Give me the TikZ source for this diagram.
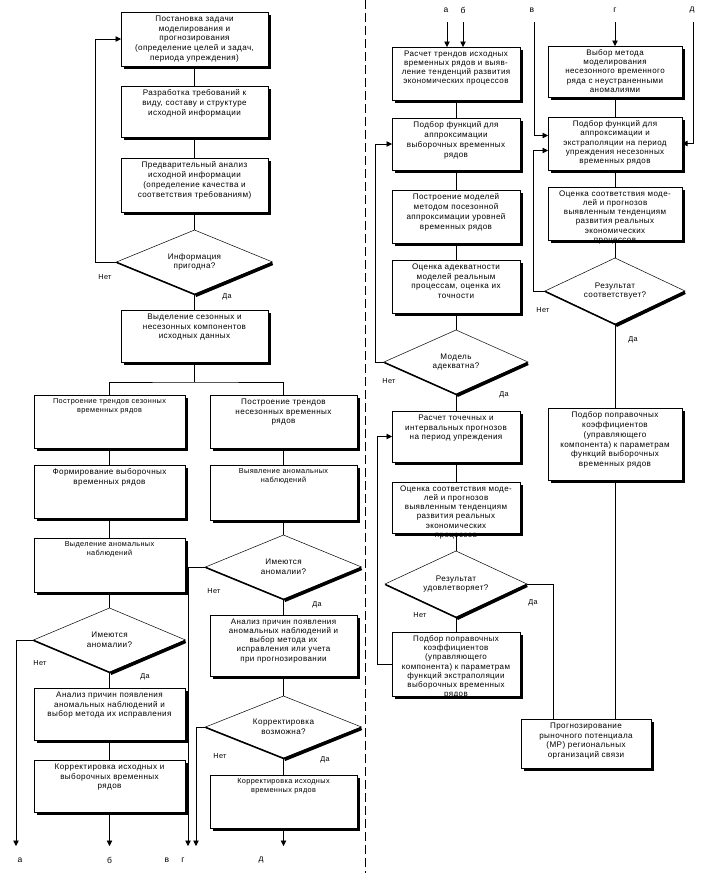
\documentclass[tikz,border=0pt]{standalone}
\usepackage{fontspec}
\setmainfont{Liberation Sans}
\newfontfamily\spfont[LetterSpace=5]{Liberation Sans}
\usetikzlibrary{arrows.meta,shadows,shapes.geometric}
\tikzset{
  boxst/.style={draw, fill=white, line width=0.8pt, inner sep=0, outer sep=0,
    drop shadow={shadow xshift=3pt, shadow yshift=-3pt, opacity=1, fill=black}},
  diast/.style={diamond, draw, line width=0.5pt, inner sep=0, outer sep=0, aspect=2.4},
  txt/.style={align=center, inner sep=0, font=\spfont\fontsize{8.1}{9.8}\selectfont},
  txr/.style={align=center, inner sep=0, font=\spfont\fontsize{8}{9.2}\selectfont},
  txs/.style={align=center, inner sep=0, font=\spfont\fontsize{7.3}{9.2}\selectfont},
  yn/.style={inner sep=0, font=\spfont\fontsize{7.3}{8}\selectfont},
  lbl/.style={inner sep=0, font=\fontsize{8.5}{9}\selectfont},
  ln/.style={line width=0.7pt},
  arr/.style={-{Triangle[length=5.5pt,width=5.5pt]}}
}
\newcommand\mkbox[7][txt]{%
  \node[boxst, minimum width={(#5)-(#3)}, minimum height={(#6)-(#4)}] (#2) at ({((#3)+(#5))/2},{((#4)+(#6))/2}) {};
  \node[#1, anchor=north] (#2-t) at ([yshift=-3.5pt]#2.north) {#7};}
\newcommand\mkdia[6]{%
  \node[diast, minimum width={2*(#4)}, minimum height={2*(#5)}] (#1) at (#2,#3) {};
  \draw[line width=1.5pt] ([shift={(0.4pt,-0.6pt)}]#1.west) -- ([shift={(0.4pt,-0.6pt)}]#1.south);
  \draw[line width=3.5pt] ([shift={(1pt,-1.4pt)}]#1.south) -- ([shift={(0pt,-1.4pt)}]#1.east);
  \node[txt] (#1-t) at (#1.center) {#6};}
\begin{document}
\begin{tikzpicture}[x=1pt,y=-1pt]
\useasboundingbox (0,0) rectangle (709,873);
% separator
\coordinate (sepT) at (365,0); \coordinate (sepB) at (365,873);
\draw[line width=0.7pt, dash pattern=on 9pt off 4pt] (sepT) -- (sepB);

% ---------- left top column ----------
\mkbox{a1}{121}{12}{268}{66}{Постановка задачи\\моделирования и\\прогнозирования\\(определение целей и задач,\\периода упреждения)}
\mkbox{a2}{121}{86}{268}{137}{Разработка требований к\\виду, составу и структуре\\исходной информации}
\mkbox{a3}{121}{158}{268}{212}{Предварительный анализ\\исходной информации\\(определение качества и\\соответствия требованиям)}
\mkdia{d1}{194.5}{262}{78}{32}{Информация\\пригодна?}
\mkbox{a4}{121}{310}{268}{362}{Выделение сезонных и\\несезонных компонентов\\исходных данных}
\draw[ln] (a1) -- (a2); \draw[ln] (a2) -- (a3); \draw[ln] (a3.south) -- (d1.north);
\draw[ln] (d1.south) -- (a4.north);
\draw[ln,arr] (d1.west) -- ++(-21,0) |- (a1.west);
\node[yn] (d1n) at (105,277) {Нет};
\node[yn] (d1y) at (227,297) {Да};

% ---------- left column B ----------
\mkbox[txs]{b1}{34}{395}{185}{448}{Построение трендов сезонных\\временных рядов}
\mkbox{b2}{34}{465}{185}{518}{Формирование выборочных\\временных рядов}
\mkbox[txs]{b3}{34}{538}{185}{592}{Выделение аномальных\\наблюдений}
\mkdia{d2}{109.5}{640}{76}{32}{Имеются\\аномалии?}
\mkbox{b4}{34}{688}{185}{740}{Анализ причин появления\\аномальных наблюдений и\\выбор метода их исправления}
\mkbox{b5}{34}{760}{185}{812}{Корректировка исходных и\\выборочных временных\\рядов}
\draw[ln] (b1) -- (b2); \draw[ln] (b2) -- (b3); \draw[ln] (b3.south) -- (d2.north);
\draw[ln] (d2.south) -- (b4.north); \draw[ln] (b4) -- (b5);
\node[yn] (d2n) at (40,663) {Нет};
\node[yn] (d2y) at (145,677) {Да};

% ---------- middle column C ----------
\mkbox{c1}{210}{395}{357}{448}{Построение трендов\\несезонных временных\\рядов}
\mkbox[txs]{c2}{210}{465}{357}{520}{Выявление аномальных\\наблюдений}
\mkdia{d3}{283.5}{567}{78}{32}{Имеются\\аномалии?}
\mkbox[txr]{c3}{210}{615}{357}{676}{Анализ причин появления\\аномальных наблюдений и\\выбор метода их\\исправления или учета\\при прогнозировании}
\mkdia{d4}{283.5}{727}{78}{31}{Корректировка\\возможна?}
\mkbox[txs]{c4}{210}{775}{357}{828}{Корректировка исходных\\временных рядов}
\draw[ln] (c1) -- (c2); \draw[ln] (c2.south) -- (d3.north);
\draw[ln] (d3.south) -- (c3.north); \draw[ln] (c3.south) -- (d4.north);
\draw[ln] (d4.south) -- (c4.north);
\node[yn] (d3n) at (214,591) {Нет};
\node[yn] (d3y) at (317,605) {Да};
\node[yn] (d4n) at (220,756) {Нет};
\node[yn] (d4y) at (325,760) {Да};

% split
\draw[ln] (a4.south) -- ++(0,20) coordinate (sp);
\draw[ln] (b1.north) |- (sp) -| (c1.north);

% bottom outgoing arrows
\coordinate (ea) at (16,846); \coordinate (eb) at (109.5,846);
\coordinate (ev) at (188,846); \coordinate (eg) at (196,846);
\coordinate (ed) at (283.5,846);
\draw[ln,arr] (d2.west) -| (ea);
\draw[ln,arr] (b5.south) -- (eb);
\draw[ln,arr] (d3.west) -| (ev);
\draw[ln,arr] (d4.west) -| (eg);
\draw[ln,arr] (c4.south) -- (ed);
\node[lbl] (la) at (20,860) {а};
\node[lbl] (lb) at (109.5,860) {б};
\node[lbl] (lv) at (167,860) {в};
\node[lbl] (lg) at (183,860) {г};
\node[lbl] (ld) at (261,860) {д};

% ---------- right column R ----------
\mkbox[txr]{r1}{392}{47}{520}{100}{Расчет трендов исходных\\временных рядов и выяв-\\ление тенденций развития\\экономических процессов}
\mkbox{r2}{392}{118}{520}{170}{Подбор функций для\\аппроксимации\\выборочных временных\\рядов}
\mkbox{r3}{392}{190}{520}{243}{Построение моделей\\методом посезонной\\аппроксимации уровней\\временных рядов}
\mkbox{r4}{392}{260}{520}{313}{Оценка адекватности\\моделей реальным\\процессам, оценка их\\точности}
\mkdia{d5}{456}{362}{72}{32}{Модель\\адекватна?}
\mkbox{r5}{392}{411}{520}{462}{Расчет точечных и\\интервальных прогнозов\\на период упреждения}
\mkbox[txr]{r6}{392}{482}{520}{533}{Оценка соответствия моде-\\лей и прогнозов\\выявленным тенденциям\\развития реальных\\экономических\\процессов}
\mkdia{d6}{456}{584}{71}{33}{Результат\\удовлетворяет?}
\mkbox[txr]{r7}{392}{632}{520}{696}{Подбор поправочных\\коэффициентов\\(управляющего\\компонента) к параметрам\\функций экстраполяции\\выборочных временных\\рядов}
\draw[ln] (r1) -- (r2); \draw[ln] (r2) -- (r3); \draw[ln] (r3) -- (r4);
\draw[ln] (r4.south) -- (d5.north); \draw[ln] (d5.south) -- (r5.north);
\draw[ln] (r5) -- (r6); \draw[ln] (r6.south) -- (d6.north); \draw[ln] (d6.south) -- (r7.north);
\draw[ln,arr] (d5.west) -- ++(-9,0) |- (r2.west);
\draw[ln,arr] (r7.west) -- ++(-15,0) |- (r5.west);
\node[yn] (d5n) at (389,381) {Нет};
\node[yn] (d5y) at (504,395) {Да};
\node[yn] (d6n) at (420,615) {Нет};
\node[yn] (d6y) at (533,603) {Да};

% top incoming labels
\node[lbl] (ta) at (446,10) {а};
\node[lbl] (tb) at (463,10) {б};
\node[lbl] (tv) at (532,10) {в};
\node[lbl] (tg) at (615,10) {г};
\node[lbl] (td) at (692,10) {д};
\draw[ln,arr] (447,22) -- (447,47);
\draw[ln,arr] (463,22) -- (463,47);

% ---------- right column S ----------
\mkbox[txr]{s1}{548}{46}{682}{97}{Выбор метода\\моделирования\\несезонного временного\\ряда с неустраненными\\аномалиями}
\mkbox[txr]{s2}{548}{117}{682}{170}{Подбор функций для\\аппроксимации и\\экстраполяции на период\\упреждения несезонных\\временных рядов}
\mkbox[txr]{s3}{548}{187}{682}{240}{Оценка соответствия моде-\\лей и прогнозов\\выявленным тенденциям\\развития реальных\\экономических\\процессов}
\mkdia{d7}{615}{291}{70}{33}{Результат\\соответствует?}
\mkbox{s4}{548}{408}{682}{480}{Подбор поправочных\\коэффициентов\\(управляющего\\компонента) к параметрам\\функций выборочных\\временных рядов}
\mkbox{f}{521}{719}{651}{768}{Прогнозирование\\рыночного потенциала\\(МР) региональных\\организаций связи}
\draw[ln] (s1) -- (s2); \draw[ln] (s2) -- (s3); \draw[ln] (s3.south) -- (d7.north);
\draw[ln] (d7.south) -- (s4.north);
\draw[ln] (s4.south) -- (s4.south |- f.north);
\draw[ln] (d6.east) -| ([xshift=-33pt]f.north);
\draw[ln,arr] (d7.west) -- ++(-12,0) |- ([yshift=-7pt]s2.west);
\draw[ln,arr] (534,22) |- ([yshift=8pt]s2.west);
\draw[ln,arr] (615,22) -- (s1.north);
\draw[ln,arr] (693,22) |- (s2.east);
\node[yn] (d7n) at (543,310) {Нет};
\node[yn] (d7y) at (633,340) {Да};
\end{tikzpicture}
\end{document}
